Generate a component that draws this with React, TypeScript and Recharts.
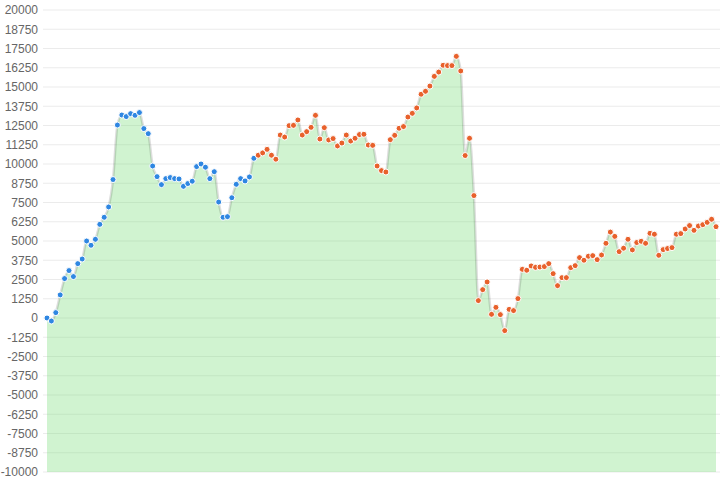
import type { ReactNode } from 'react';
import { AreaChart, Area, XAxis, YAxis, CartesianGrid } from 'recharts';

// early stretch, drawn with blue markers
const phaseA: number[] = [
  0, -195, 350, 1500, 2560, 3080, 2690, 3530, 3830, 5000,
  4720, 5110, 6080, 6540, 7210, 8990, 12530, 13180, 13080, 13270,
  13160, 13340, 12300, 11970, 9870, 9180, 8660, 9050, 9120, 9050,
  9030, 8550, 8730, 8880, 9830, 10000, 9790, 9050, 9500, 7530,
  6540, 6580, 7810, 8680, 9050, 8900, 9160, 10370,
];

// later stretch, drawn with orange markers
const phaseB: number[] = [
  10570, 10720, 10950, 10570, 10310, 11880, 11750, 12490, 12510, 12860,
  11880, 12100, 12380, 13160, 11620, 12360, 11560, 11650, 11170, 11360,
  11880, 11490, 11670, 11910, 11930, 11230, 11210, 9870, 9570, 9480,
  11580, 11860, 12320, 12430, 13050, 13290, 13640, 14530, 14720, 15060,
  15690, 15970, 16410, 16390, 16390, 16990, 16040, 10550, 11670, 7950,
  1130, 1840, 2340, 240, 690, 220, -820, 560, 480, 1260,
  3160, 3100, 3380, 3290, 3310, 3340, 3530, 2880, 2100, 2620,
  2620, 3270, 3400, 3920, 3750, 4010, 4050, 3790,
  4090, 4850, 5580, 5300, 4310, 4530, 5110, 4420, 4900, 4980, 4850, 5500,
  5440, 4070, 4440, 4510, 4570, 5440, 5480, 5780, 6000, 5690, 5970, 6060, 6210, 6410, 5930,
];

const yTicks: number[] = [
  -10000, -8750, -7500, -6250, -5000, -3750, -2500, -1250, 0,
  1250, 2500, 3750, 5000, 6250, 7500, 8750, 10000, 11250, 12500,
  13750, 15000, 16250, 17500, 18750, 20000,
];

const data = [...phaseA, ...phaseB].map((value, i) => ({
  idx: i,
  value,
  phase: i < phaseA.length ? 'a' : 'b',
}));

const BLUE = '#2f87e2';
const ORANGE = '#e8612c';

function PointDot(props: any): ReactNode {
  const { cx, cy, payload, index } = props;
  if (cx == null || cy == null) return null;
  const color = payload?.phase === 'a' ? BLUE : ORANGE;
  return <circle key={`dot-${index}`} cx={cx} cy={cy} r={3} fill={color} stroke="#fff" strokeWidth={1} />;
}

export default function App(): ReactNode {
  return (
    <div style={{ position: 'absolute', left: 0, top: 0 }}>
      <AreaChart
        width={726}
        height={488}
        data={data}
        margin={{ top: 10, right: 6, bottom: 16, left: 0 }}
      >
        <CartesianGrid vertical={false} stroke="rgba(0,0,0,0.08)" />
        <XAxis dataKey="idx" hide padding={{ left: 4, right: 4 }} />
        <YAxis
          type="number"
          domain={[-10000, 20000]}
          ticks={yTicks}
          interval={0}
          width={43}
          axisLine={false}
          tickLine={false}
          tickSize={3}
          tickMargin={2}
          tick={{ fill: '#666', fontSize: 12, fontFamily: 'Arial, "Liberation Sans", sans-serif' }}
        />
        <Area
          type="monotone"
          dataKey="value"
          baseValue="dataMin"
          stroke="rgba(0,0,0,0.13)"
          strokeWidth={2.5}
          fill="rgb(120,220,120)"
          fillOpacity={0.35}
          dot={PointDot}
          activeDot={false}
          isAnimationActive={false}
        />
      </AreaChart>
    </div>
  );
}
